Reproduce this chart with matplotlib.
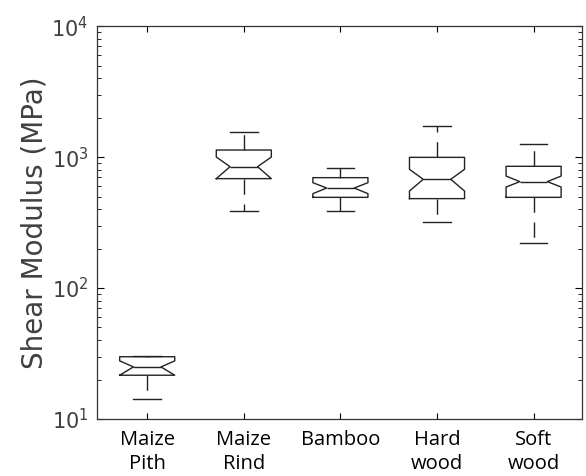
import numpy as np
import matplotlib
matplotlib.use("Agg")
import matplotlib.pyplot as plt

# box statistics (MPa)
labels = ["Maize\nPith", "Maize\nRind", "Bamboo", "Hard\nwood", "Soft\nwood"]
whislo = [14.2, 388, 388, 320, 222]
q1 = [21.6, 685, 493, 482, 493]
med = [25.0, 845, 581, 677, 650]
q3 = [29.9, 1133, 697, 996, 851]
whishi = [30.3, 1554, 826, 1717, 1251]
cilo = [21.6, 685, 526, 551, 591]
cihi = [27.8, 1002, 638, 807, 717]

stats = []
for i in range(len(labels)):
    stats.append(dict(label=labels[i], whislo=whislo[i], q1=q1[i], med=med[i],
                      q3=q3[i], whishi=whishi[i], cilo=cilo[i], cihi=cihi[i],
                      fliers=[]))

fig = plt.figure(figsize=(5.86, 4.76), dpi=100)
ax = fig.add_axes([0.1655, 0.1197, 0.8275, 0.8253])

lc = "#222222"
ax.bxp(stats, shownotches=True, widths=0.57, showfliers=False,
       boxprops=dict(color=lc, linewidth=1.0),
       medianprops=dict(color=lc, linewidth=1.0),
       whiskerprops=dict(color=lc, linewidth=1.0, linestyle=(0, (11, 7))),
       capprops=dict(color=lc, linewidth=1.0))

ax.set_yscale("log")
ax.set_ylim(10, 1e4)
ax.set_xlim(0.48, 5.5)
ax.set_xticks(range(1, 6))
ax.set_xticklabels(labels, fontsize=14.5, family=["Open Sans", "DejaVu Sans"],
                   color="black", linespacing=1.25)
ax.tick_params(axis="x", which="both", direction="in", top=True, length=4, pad=8)
ax.tick_params(axis="y", which="major", direction="in", right=True, length=5,
               labelsize=15, labelcolor="#404040", pad=6)
ax.tick_params(axis="y", which="minor", direction="in", right=True, length=3)
ax.set_ylabel("Shear Modulus (MPa)", fontsize=20, color="#404040", labelpad=2)
for s in ax.spines.values():
    s.set_color("#333333")
    s.set_linewidth(0.9)

fig.savefig("out.png", dpi=100)
